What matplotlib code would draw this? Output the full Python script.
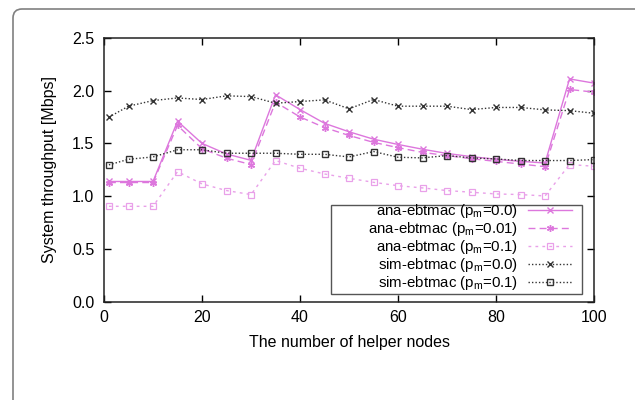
import matplotlib
matplotlib.use('Agg')
import matplotlib.pyplot as plt
from matplotlib.patches import FancyBboxPatch, Rectangle
from matplotlib.transforms import IdentityTransform

plt.rcParams['font.family'] = 'Liberation Sans'
plt.rcParams['font.size'] = 11.5

# helper node counts
nodes = [1, 5, 10, 15, 20, 25, 30, 35, 40, 45, 50, 55, 60, 65, 70, 75, 80, 85, 90, 95, 100]

# throughput [Mbps]
ana_p0 = [1.14, 1.14, 1.14, 1.71, 1.50, 1.40, 1.34, 1.96, 1.82, 1.69, 1.61, 1.54, 1.49,
          1.445, 1.405, 1.375, 1.35, 1.33, 1.315, 2.11, 2.07]
ana_p001 = [1.13, 1.13, 1.13, 1.67, 1.45, 1.36, 1.30, 1.89, 1.75, 1.65, 1.575, 1.51, 1.46,
            1.415, 1.385, 1.355, 1.33, 1.305, 1.28, 2.01, 1.985]
ana_p01 = [0.905, 0.905, 0.905, 1.233, 1.117, 1.054, 1.016, 1.338, 1.265, 1.211, 1.17, 1.132,
           1.10, 1.079, 1.054, 1.038, 1.022, 1.016, 1.003, 1.30, 1.284]
sim_p0 = [1.748, 1.852, 1.905, 1.93, 1.915, 1.95, 1.943, 1.88, 1.896, 1.912, 1.827, 1.915,
          1.852, 1.852, 1.852, 1.82, 1.84, 1.84, 1.817, 1.81, 1.785]
sim_p01 = [1.297, 1.35, 1.372, 1.44, 1.44, 1.407, 1.407, 1.407, 1.397, 1.397, 1.372, 1.423,
           1.369, 1.363, 1.385, 1.363, 1.353, 1.338, 1.338, 1.338, 1.347]

labels = [r'ana-ebtmac ($\mathregular{p_m}$=0.0)',
          r'ana-ebtmac ($\mathregular{p_m}$=0.01)',
          r'ana-ebtmac ($\mathregular{p_m}$=0.1)',
          r'sim-ebtmac ($\mathregular{p_m}$=0.0)',
          r'sim-ebtmac ($\mathregular{p_m}$=0.1)']

fig = plt.figure(figsize=(6.35, 4), dpi=100)
ax = fig.add_axes([0.1638, 0.245, 0.7717, 0.6608])

# grey outer frame with rounded corner
frame = FancyBboxPatch((13, -60), 700, 391 + 60, boxstyle='round,pad=0,rounding_size=9',
                       transform=IdentityTransform(), fill=False, edgecolor='#808080',
                       linewidth=1.2)
fig.patches.append(frame)

pink = '#dd77dd'
pink_l = '#e9a0e9'
ax.plot(nodes, ana_p0, color=pink, ls='-', lw=1.0, marker='x', ms=5, mew=1.0, label=labels[0])
ax.plot(nodes, ana_p001, color=pink, ls=(0, (5, 3)), lw=1.0, marker=(6, 2, 0), ms=5, mew=1.0,
        label=labels[1])
ax.plot(nodes, ana_p01, color=pink_l, ls=(0, (2, 3)), lw=1.0, marker='s', ms=4.5, mfc='none',
        mew=0.9, label=labels[2])
ax.plot(nodes, sim_p0, color='#333333', ls=(0, (1, 1.5)), lw=1.0, marker='x', ms=4.5, mew=1.0,
        label=labels[3])
ax.plot(nodes, sim_p01, color='#333333', ls=(0, (1, 1.5)), lw=1.0, marker='s', ms=4.5,
        mfc='none', mew=1.0, label=labels[4])

ax.set_xlim(0, 100)
ax.set_ylim(0, 2.5)
ax.set_xticks([0, 20, 40, 60, 80, 100])
ax.set_yticks([0.0, 0.5, 1.0, 1.5, 2.0, 2.5])
ax.set_yticklabels(['0.0', '0.5', '1.0', '1.5', '2.0', '2.5'])
ax.tick_params(direction='in', top=True, right=True, length=5, width=1)
ax.tick_params(axis='x', pad=6)
ax.tick_params(axis='y', pad=7)
for s in ax.spines.values():
    s.set_linewidth(1.1)
    s.set_color('#222222')

ax.set_xlabel('The number of helper nodes', labelpad=7)
ax.set_ylabel('System throughput [Mbps]', labelpad=11)

# legend box drawn separately (gnuplot-style key with wide left margin)
ax.add_patch(Rectangle((0.4627, 0.032), 0.9749 - 0.4627, 0.368 - 0.032,
                       transform=ax.transAxes, facecolor='white', edgecolor='#555555',
                       linewidth=1.0, zorder=4))
leg = ax.legend(loc='lower right', bbox_to_anchor=(0.9545, 0.036), markerfirst=False,
                handlelength=2.9, labelspacing=0.0, borderpad=0, handletextpad=0.7,
                frameon=False, borderaxespad=0, fontsize=10.8)
leg.set_zorder(5)
for t in leg.get_texts():
    t.set_ha('right')
leg._legend_box.align = 'right'

fig.savefig('out.png', dpi=100)
